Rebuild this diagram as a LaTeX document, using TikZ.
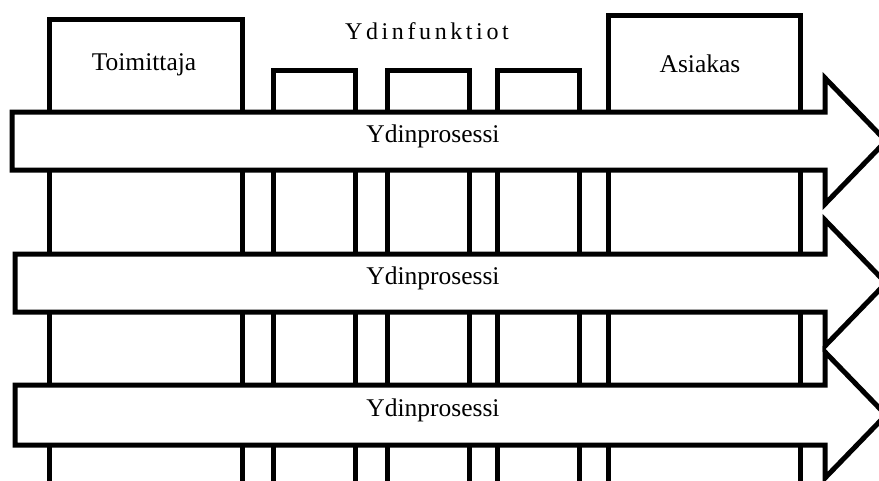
\documentclass[tikz,border=0pt]{standalone}
\usepackage{fontspec}
\setmainfont{Liberation Serif}
\newfontfamily\spacedfont[LetterSpace=15]{Liberation Serif}
\begin{document}
\begin{tikzpicture}[x=1pt,y=-1pt,
  frame/.style={draw=black,line width=5pt,fill=white,line join=miter},
  lbl/.style={font=\fontsize{25.5}{30}\selectfont,anchor=base,inner sep=0pt}]
\useasboundingbox (0,0) rectangle (879,480);
\clip (0,0) rectangle (879,480);
% columns
\draw[frame] (49,19) rectangle (242,510);
\draw[frame] (273,70) rectangle (355,510);
\draw[frame] (387,70) rectangle (469,510);
\draw[frame] (497,70) rectangle (579,510);
\draw[frame] (608,15) rectangle (800,510);
% process arrows
\draw[frame] (12,112) -- (825,112) -- (825,78) -- (886,141) -- (825,204) -- (825,170) -- (12,170) -- cycle;
\draw[frame] (15,254) -- (825,254) -- (825,220) -- (886,283) -- (825,346) -- (825,312) -- (15,312) -- cycle;
\draw[frame] (15,385) -- (825,385) -- (825,352) -- (886,415) -- (825,478) -- (825,445) -- (15,445) -- cycle;
% labels
\node[lbl] (sup) at (144,70) {Toimittaja};
\node[lbl] (cust) at (700,72) {Asiakas};
\node[lbl,font=\fontsize{24}{28}\spacedfont] (core) at (427,39) {Ydinfunktiot};
\node[lbl] (p1) at (433,142) {Ydinprosessi};
\node[lbl] (p2) at (433,284) {Ydinprosessi};
\node[lbl] (p3) at (433,416) {Ydinprosessi};
\end{tikzpicture}
\end{document}
